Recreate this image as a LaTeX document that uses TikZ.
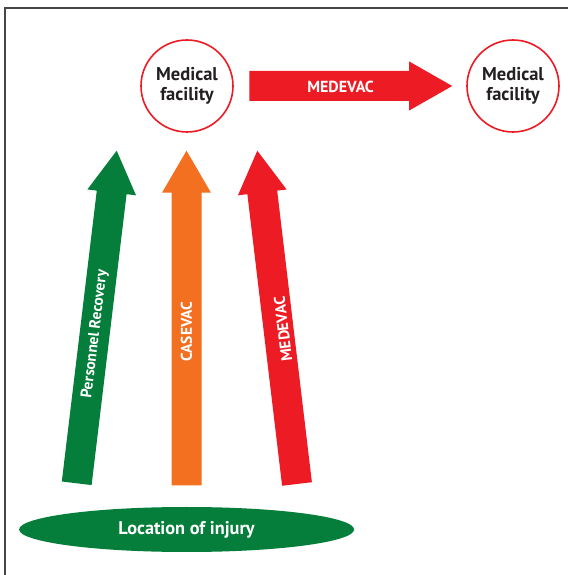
\documentclass[tikz,border=0pt]{standalone}
\usepackage{fontspec}
\setmainfont{PT Sans}
\usetikzlibrary{calc,shapes.geometric}
\definecolor{evgreen}{RGB}{4,126,58}
\definecolor{evorange}{RGB}{243,112,33}
\definecolor{evred}{RGB}{237,28,36}
\definecolor{framegray}{RGB}{70,70,70}
\definecolor{textdark}{RGB}{35,31,32}
\newcommand\blockarr[6]{%
  \path ($(#3)!#6!(#2)$) coordinate (hb);
  \fill[#1] ($(#2)!#4!90:(#3)$) -- ($(hb)!#4!90:(#3)$) -- ($(hb)!#5!90:(#3)$) -- (#3)
    -- ($(hb)!#5!-90:(#3)$) -- ($(hb)!#4!-90:(#3)$) -- ($(#2)!#4!-90:(#3)$) -- cycle;
}
\begin{document}
\begin{tikzpicture}[x=1pt,y=1pt,
  facility/.style={circle,draw=evred,line width=1.6pt,fill=white,minimum size=92pt,inner sep=0pt,
     align=center,font=\bfseries\fontsize{18.5}{20}\selectfont,text=textdark},
  injury/.style={ellipse,fill=evgreen,minimum width=335pt,minimum height=45pt,inner sep=0pt,
     text=white,font=\bfseries\fontsize{18.3}{20}\selectfont},
  arrlabel/.style={text=white,font=\bfseries\fontsize{15.5}{16}\selectfont,inner sep=0pt}]
\useasboundingbox (0,0) rectangle (568,575);
\draw[framegray,line width=1.2pt] (5,0) -- (5,567) -- (568,567);
% nodes
\node[facility] (fac1) at (187,489) {Medical\\facility};
\node[facility] (fac2) at (513,489) {Medical\\facility};
\node[injury] (inj) at (186.6,45.5) {Location of injury};
% arrow end points
\coordinate (g0) at (76.7,91.7);  \coordinate (g1) at (116.7,424.3);
\coordinate (o0) at (186.5,89.5); \coordinate (o1) at (186.5,424.3);
\coordinate (r0) at (297,91);     \coordinate (r1) at (257.3,424.3);
\coordinate (m0) at (249.3,489);  \coordinate (m1) at (452.2,489);
% block arrows
\blockarr{evgreen}{g0}{g1}{15pt}{24.5pt}{42pt}
\blockarr{evorange}{o0}{o1}{15pt}{24.5pt}{42pt}
\blockarr{evred}{r0}{r1}{15pt}{24.5pt}{42pt}
\blockarr{evred}{m0}{m1}{15pt}{24.5pt}{43pt}
% labels
\node[arrlabel,rotate=83.1] (lpr) at (95,241) {Personnel Recovery};
\node[arrlabel,rotate=90] (lcas) at (186.5,243.3) {CASEVAC};
\node[arrlabel,rotate=96.9] (lmed) at (283,246) {MEDEVAC};
\node[arrlabel,font=\bfseries\fontsize{16}{17}\selectfont] (lmedh) at (340.6,488) {MEDEVAC};
\end{tikzpicture}
\end{document}
